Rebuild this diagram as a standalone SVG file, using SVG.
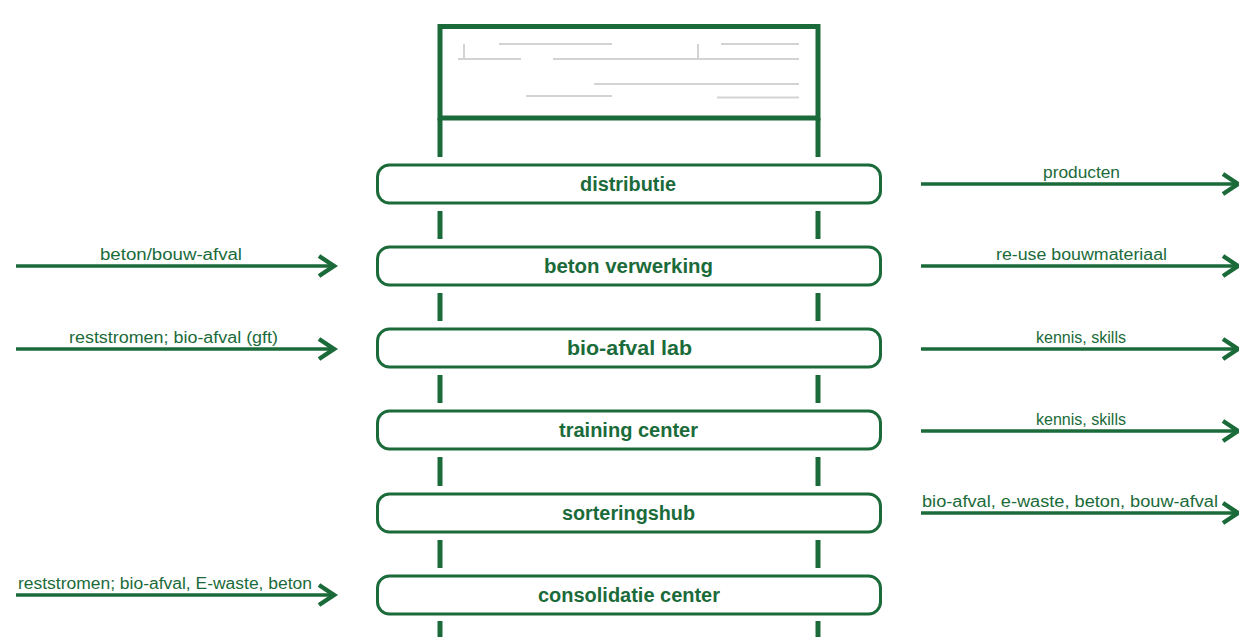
<svg xmlns="http://www.w3.org/2000/svg" width="1239" height="637" viewBox="0 0 1239 637">
<defs>
<style>
.frame{fill:none;stroke:#1b6b3a;stroke-width:5}
.grey{stroke:#d3d3d3;stroke-width:2;fill:none}
.box{fill:#fff;stroke:#1b6b3a;stroke-width:3}
.lbl{font-family:"Liberation Sans",Arial,sans-serif;font-weight:bold;font-size:20px;fill:#1b6b3a;text-anchor:middle}
.flow{stroke:#1b6b3a;stroke-width:3.5;fill:none}
.head{stroke:#1b6b3a;stroke-width:4.5;fill:none}
.ftxt{font-family:"Liberation Sans",Arial,sans-serif;font-size:16px;fill:#1b6b3a}
</style>
</defs>
<g id="top-frame">
<rect class="frame" x="440" y="26.5" width="378" height="91.5"/>
<g class="grey">
<line x1="499" y1="44" x2="612" y2="44"/>
<line x1="721" y1="44" x2="799" y2="44"/>
<line x1="464" y1="44" x2="464" y2="59"/>
<line x1="458" y1="59" x2="521" y2="59"/>
<line x1="553" y1="59" x2="799" y2="59"/>
<line x1="698" y1="44" x2="698" y2="59"/>
<line x1="594" y1="84" x2="799" y2="84"/>
<line x1="526" y1="96" x2="612" y2="96"/>
<line x1="717" y1="97.5" x2="799" y2="97.5"/>
</g>
<g class="frame">
<line x1="440" y1="118" x2="440" y2="157"/><line x1="818" y1="118" x2="818" y2="157"/>
<line x1="440" y1="211" x2="440" y2="239"/><line x1="818" y1="211" x2="818" y2="239"/>
<line x1="440" y1="293" x2="440" y2="321"/><line x1="818" y1="293" x2="818" y2="321"/>
<line x1="440" y1="375" x2="440" y2="403"/><line x1="818" y1="375" x2="818" y2="403"/>
<line x1="440" y1="457" x2="440" y2="486"/><line x1="818" y1="457" x2="818" y2="486"/>
<line x1="440" y1="540" x2="440" y2="568"/><line x1="818" y1="540" x2="818" y2="568"/>
<line x1="440" y1="621" x2="440" y2="637"/><line x1="818" y1="621" x2="818" y2="637"/>
</g>
</g>
<g id="distributie"><rect class="box" x="377.5" y="165" width="503" height="38" rx="12"/><text class="lbl" x="628" y="191" textLength="96" lengthAdjust="spacingAndGlyphs">distributie</text></g>
<g id="beton-verwerking"><rect class="box" x="377.5" y="247" width="503" height="38" rx="12"/><text class="lbl" x="628.5" y="272.5" textLength="169" lengthAdjust="spacingAndGlyphs">beton verwerking</text></g>
<g id="bio-afval-lab"><rect class="box" x="377.5" y="329" width="503" height="38" rx="12"/><text class="lbl" x="629.5" y="355" textLength="125" lengthAdjust="spacingAndGlyphs">bio-afval lab</text></g>
<g id="training-center"><rect class="box" x="377.5" y="411" width="503" height="38" rx="12"/><text class="lbl" x="628.5" y="437" textLength="139" lengthAdjust="spacingAndGlyphs">training center</text></g>
<g id="sorteringshub"><rect class="box" x="377.5" y="494" width="503" height="38" rx="12"/><text class="lbl" x="628.5" y="520" textLength="133" lengthAdjust="spacingAndGlyphs">sorteringshub</text></g>
<g id="consolidatie-center"><rect class="box" x="377.5" y="576" width="503" height="38" rx="12"/><text class="lbl" x="629" y="602" textLength="182" lengthAdjust="spacingAndGlyphs">consolidatie center</text></g>
<g id="connectors">
<line class="flow" x1="16" y1="266" x2="332" y2="266"/><polyline class="head" points="319,256 334,266 319,276"/>
<line class="flow" x1="16" y1="349" x2="332" y2="349"/><polyline class="head" points="319,339 334,349 319,359"/>
<line class="flow" x1="16" y1="595" x2="332" y2="595"/><polyline class="head" points="319,585 334,595 319,605"/>
<line class="flow" x1="921" y1="184" x2="1236" y2="184"/><polyline class="head" points="1223,174 1238,184 1223,194"/>
<line class="flow" x1="921" y1="266" x2="1236" y2="266"/><polyline class="head" points="1223,256 1238,266 1223,276"/>
<line class="flow" x1="921" y1="349" x2="1236" y2="349"/><polyline class="head" points="1223,339 1238,349 1223,359"/>
<line class="flow" x1="921" y1="431" x2="1236" y2="431"/><polyline class="head" points="1223,421 1238,431 1223,441"/>
<line class="flow" x1="921" y1="513" x2="1236" y2="513"/><polyline class="head" points="1223,503 1238,513 1223,523"/>
<text class="ftxt" x="100" y="260" textLength="142" lengthAdjust="spacingAndGlyphs">beton/bouw-afval</text>
<text class="ftxt" x="69" y="343" textLength="209" lengthAdjust="spacingAndGlyphs">reststromen; bio-afval (gft)</text>
<text class="ftxt" x="18" y="589" textLength="294" lengthAdjust="spacingAndGlyphs">reststromen; bio-afval, E-waste, beton</text>
<text class="ftxt" x="1043" y="178" textLength="77" lengthAdjust="spacingAndGlyphs">producten</text>
<text class="ftxt" x="996" y="260" textLength="171" lengthAdjust="spacingAndGlyphs">re-use bouwmateriaal</text>
<text class="ftxt" x="1036" y="343" textLength="90" lengthAdjust="spacingAndGlyphs">kennis, skills</text>
<text class="ftxt" x="1036" y="425" textLength="90" lengthAdjust="spacingAndGlyphs">kennis, skills</text>
<text class="ftxt" x="922" y="507" textLength="296" lengthAdjust="spacingAndGlyphs">bio-afval, e-waste, beton, bouw-afval</text>
</g>
</svg>
